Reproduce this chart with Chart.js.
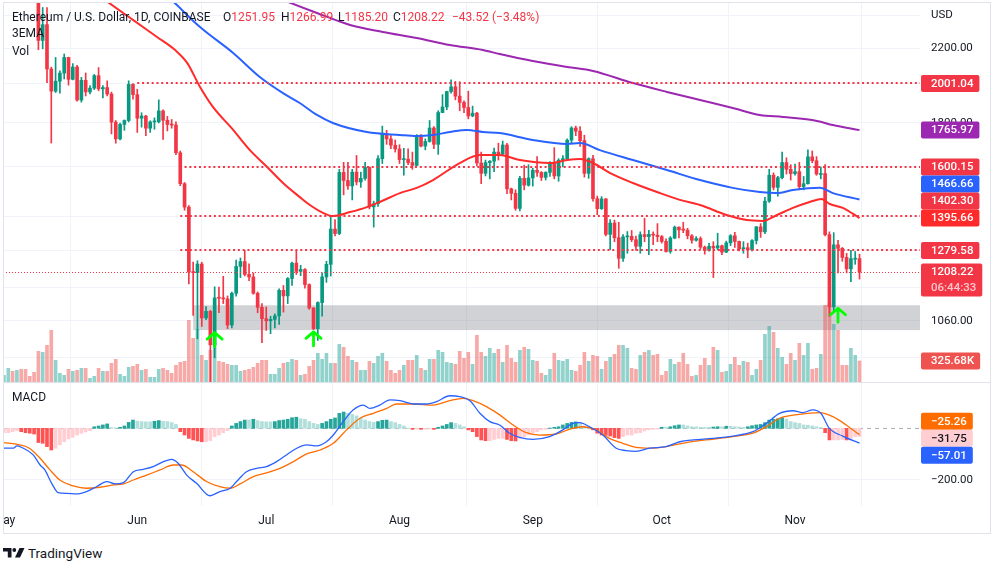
<!DOCTYPE html>
<html>
<head>
<meta charset="utf-8">
<title>ETHUSD 1D - COINBASE</title>
<script src="https://cdn.jsdelivr.net/npm/chart.js@4.4.1/dist/chart.umd.min.js"></script>
<style>
  html, body { margin: 0; padding: 0; background: #fff; }
  body { width: 1001px; height: 570px; position: relative; overflow: hidden;
         font-family: Roboto, "Noto Sans", sans-serif; color: #131722; }
  .pane { position: absolute; left: 3px; width: 988px; }
  #pricePane { top: 2px; height: 380px; }
  #macdPane { top: 383px; height: 151px; }
  .frame { position: absolute; left: 3px; top: 2px; width: 988px; height: 532px;
           box-sizing: border-box; border: 1px solid #e0e3eb; pointer-events: none; }
  .sep { position: absolute; left: 3px; top: 382px; width: 988px; height: 1px; background: #e0e3eb; }
  .lbl { position: absolute; font-size: 12px; line-height: 16px; white-space: nowrap; }
  .red { color: #f23645; }
  #brand { position: absolute; left: 28px; top: 545px; font-size: 13.5px; line-height: 16px; color: #131722; }
</style>
</head>
<body>
<div class="pane" id="pricePane"><canvas id="priceChart" width="988" height="380"></canvas></div>
<div class="pane" id="macdPane"><canvas id="macdChart" width="988" height="151"></canvas></div>
<div class="sep"></div>
<div class="frame"></div>

<div class="lbl" style="left:12px;top:9px">Ethereum / U.S. Dollar, 1D, COINBASE</div>
<div id="ohlc"></div>
<div class="lbl" style="left:12px;top:25px">3EMA</div>
<div class="lbl" style="left:12px;top:43px">Vol</div>
<div class="lbl" style="left:12px;top:389px">MACD</div>

<svg style="position:absolute;left:3px;top:548px" width="22" height="10" viewBox="0 0 22 10">
  <path d="M0 0H8.5V9.5H4.8V3.6H0Z" fill="#131722"/>
  <circle cx="11.3" cy="2" r="1.9" fill="#131722"/>
  <path d="M16.5 0H21.5L17 9.5H12Z" fill="#131722"/>
</svg>
<div id="brand">TradingView</div>

<script>
// ── ETH/USD daily, 1 May – 16 Nov 2022 (index 0 = 1 May) ─────────────────────

const monthStarts = [0, 31, 61, 92, 123, 153, 184];
const monthLabels = ['May', 'Jun', 'Jul', 'Aug', 'Sep', 'Oct', 'Nov'];

const opens = [
  2728,2826,2857,2783,2940,2749,2695,2636,2518,2245,
  2342,2080,1960,2013,2057,2145,2023,2091,1914,2018,
  1956,1976,2043,1972,1979,1945,1804,1725,1793,1812,
  1996,1942,1823,1834,1775,1805,1806,1859,1813,1793,
  1790,1662,1530,1437,1208,1206,1234,1068,1087,994,
  1127,1126,1124,1048,1141,1226,1242,1200,1192,1141,
  1099,1066,1060,1064,1074,1150,1133,1187,1237,1210,
  1216,1168,1097,1038,1113,1192,1233,1355,1339,1577,
  1543,1521,1578,1537,1552,1598,1438,1450,1636,1745,
  1725,1696,1679,1632,1634,1619,1607,1734,1692,1713,
  1776,1700,1851,1879,1958,1983,1934,1902,1876,1834,
  1848,1617,1573,1619,1625,1665,1656,1697,1509,1491,
  1432,1552,1524,1554,1586,1577,1556,1577,1618,1562,
  1629,1636,1719,1776,1761,1717,1573,1636,1470,1431,
  1469,1336,1377,1324,1253,1327,1329,1317,1294,1335,
  1328,1336,1333,1328,1311,1276,1323,1362,1352,1351,
  1331,1315,1321,1291,1280,1294,1288,1296,1274,1306,
  1331,1311,1285,1289,1282,1314,1363,1345,1460,1565,
  1515,1555,1619,1590,1572,1580,1518,1530,1644,1627,
  1568,1572,1335,1100,1299,1287,1256,1218,1250,1251.95
];
const highs = [
  2838,2885,2875,2955,2950,2758,2699,2640,2522,2452,
  2452,2090,2145,2070,2165,2147,2110,2100,2034,2058,
  1990,2050,2088,1990,2015,1955,1812,1800,1815,2015,
  2000,1970,1850,1837,1810,1825,1915,1865,1832,1817,
  1805,1670,1535,1443,1240,1245,1240,1101,1090,1161,
  1160,1194,1133,1145,1247,1254,1280,1235,1205,1145,
  1110,1100,1073,1080,1155,1165,1190,1240,1280,1230,
  1219,1170,1098,1115,1205,1243,1404,1390,1590,1620,
  1620,1590,1650,1578,1620,1600,1460,1650,1785,1765,
  1740,1720,1698,1682,1680,1665,1745,1745,1725,1812,
  1783,1860,1942,1960,2020,2012,2010,1910,1960,1883,
  1852,1665,1630,1628,1683,1705,1715,1705,1512,1505,
  1560,1608,1610,1595,1645,1580,1580,1623,1685,1636,
  1650,1725,1782,1785,1783,1742,1640,1651,1480,1478,
  1470,1390,1388,1380,1335,1346,1350,1330,1345,1395,
  1350,1345,1375,1332,1320,1328,1366,1363,1380,1358,
  1335,1328,1327,1295,1304,1310,1340,1298,1312,1335,
  1343,1312,1310,1305,1317,1365,1375,1475,1590,1575,
  1560,1665,1640,1610,1612,1620,1560,1675,1670,1645,
  1600,1610,1345,1342,1315,1290,1270,1280,1276,1266.99
];
const lows = [
  2715,2775,2755,2779,2710,2650,2595,2500,2190,2195,
  2005,1706,1953,1950,2025,1992,2020,1908,1903,1935,
  1946,1968,1962,1925,1935,1748,1705,1720,1765,1805,
  1918,1755,1780,1740,1755,1770,1800,1722,1762,1775,
  1654,1522,1425,1170,1075,1010,1044,1063,880,960,
  1083,1110,1038,1040,1132,1190,1195,1180,1138,1083,
  1000,1033,1024,1040,1050,1085,1110,1165,1200,1196,
  1157,1093,1035,1006,1073,1175,1195,1330,1335,1485,
  1507,1465,1525,1515,1545,1430,1362,1440,1615,1700,
  1680,1665,1615,1565,1610,1590,1605,1688,1675,1710,
  1680,1655,1850,1865,1950,1915,1860,1850,1820,1830,
  1605,1530,1562,1550,1580,1630,1650,1490,1465,1425,
  1422,1505,1520,1520,1560,1543,1545,1560,1550,1540,
  1600,1633,1705,1740,1690,1557,1552,1460,1408,1428,
  1330,1282,1310,1220,1243,1270,1310,1280,1270,1310,
  1265,1300,1310,1305,1274,1270,1320,1323,1342,1320,
  1305,1312,1285,1267,1277,1190,1282,1265,1272,1296,
  1290,1278,1270,1255,1278,1302,1325,1338,1455,1505,
  1480,1550,1570,1545,1565,1505,1505,1528,1618,1565,
  1550,1330,1073,1087,1205,1243,1205,1177,1233,1185.20
];
const closes = [
  2826,2857,2783,2940,2749,2695,2636,2518,2245,2342,
  2080,1960,2013,2057,2145,2023,2091,1914,2018,1956,
  1976,2043,1972,1979,1945,1804,1725,1793,1812,1996,
  1942,1823,1834,1775,1805,1806,1859,1813,1793,1790,
  1662,1530,1437,1208,1206,1234,1068,1087,994,1127,
  1126,1124,1048,1141,1226,1242,1200,1192,1141,1099,
  1066,1060,1064,1074,1150,1133,1187,1237,1210,1216,
  1168,1097,1038,1113,1192,1233,1355,1339,1577,1543,
  1521,1578,1537,1552,1598,1438,1450,1636,1745,1725,
  1696,1679,1632,1634,1619,1607,1734,1692,1713,1776,
  1700,1851,1879,1958,1983,1934,1902,1876,1834,1848,
  1617,1573,1619,1625,1665,1656,1697,1509,1491,1432,
  1552,1524,1554,1586,1577,1556,1577,1618,1562,1629,
  1636,1719,1776,1761,1717,1573,1636,1470,1431,1469,
  1336,1377,1324,1253,1327,1329,1317,1294,1335,1328,
  1336,1333,1328,1311,1276,1323,1362,1352,1351,1331,
  1315,1321,1291,1280,1294,1288,1296,1274,1306,1331,
  1311,1285,1289,1282,1314,1363,1345,1460,1565,1515,
  1555,1619,1590,1572,1580,1518,1530,1644,1627,1570,
  1572,1335,1100,1299,1287,1256,1218,1252,1251.74,1208.22
];
// volume, thousands of ETH
const volumes = [
  103,212,165,181,196,196,88,150,475,460,
  568,801,336,134,103,196,165,181,212,212,
  57,88,212,165,165,289,351,119,88,227,
  243,274,181,196,72,72,196,212,181,134,
  258,305,320,956,677,816,413,336,491,594,
  320,305,274,258,258,165,181,196,227,289,
  336,336,119,119,212,289,305,351,336,103,
  119,243,336,444,351,444,289,289,584,537,
  398,336,305,181,181,320,289,398,444,320,
  181,134,181,258,336,336,413,212,181,351,
  351,491,460,305,289,274,475,367,460,274,
  723,460,398,522,444,506,305,568,367,305,
  491,537,506,336,320,134,103,196,444,336,
  320,351,181,165,258,460,320,413,398,196,
  320,382,429,568,568,522,212,196,413,460,
  491,413,429,103,165,351,274,305,444,274,
  88,103,258,367,258,537,491,150,165,274,
  382,258,320,305,103,196,336,739,863,770,
  522,382,274,444,336,599,413,599,196,212,
  429,1188,1215,894,801,258,258,522,413,325.68
];

// 3EMA lines: [day, price]
const emaRed = [
  [15,2700],[23.5,2502],[30,2372],[35.6,2266],[39.8,2188],[42.6,2114],[45.6,1982],
  [48.6,1879],[53.3,1767],[57.2,1674],[61.2,1600],[64.9,1533],[68.8,1476],[70.5,1453],
  [74.2,1415],[76.5,1403],[80.5,1418],[84.4,1437],[87.4,1457],[92.1,1492],[96,1513],
  [99.8,1545],[106,1617],[110.7,1652],[115.3,1652],[120,1630],[127,1617],[131,1630],
  [134,1635],[137,1617],[141,1574],[146.3,1533],[152.6,1492],[157.2,1465],[161.9,1445],
  [168.1,1407],[172.8,1388],[176.5,1385],[179.8,1407],[183.5,1434],[187.4,1457],
  [190.2,1469],[192.1,1449],[195.1,1434],[199,1395.66]
];
const emaBlue = [
  [30,2750],[39,2502],[45.6,2327],[53.3,2171],[59.5,2036],[64.9,1950],[68.8,1899],
  [72.8,1839],[76.5,1800],[84.4,1757],[92.1,1743],[96,1738],[99.8,1743],[103.7,1757],
  [107.7,1767],[111.4,1757],[115.3,1752],[123,1720],[131,1702],[134,1706],[138.6,1674],
  [146.3,1630],[154.2,1587],[161.9,1545],[169.5,1513],[175.8,1496],[179.8,1492],
  [183.5,1504],[189.8,1513],[192.8,1492],[199,1466.66]
];
const emaPurple = [
  [55,2620],[64.9,2502],[72.8,2416],[80.5,2340],[88.1,2297],[96,2260],[103.7,2218],
  [111.4,2188],[115.3,2165],[123,2125],[131,2091],[137,2069],[146.3,2003],[154.2,1956],
  [161.9,1914],[169.5,1874],[175.8,1839],[181.2,1829],[189.1,1810],[192.8,1790],[199,1765.97]
];

// drawings
const levels = [2001.04, 1600.15, 1402.30, 1279.58];
const levelStarts = [31, 42, 41, 41];
const zoneLow = 1034, zoneHigh = 1105, zoneStart = 44;
const arrowDays = [49, 72, 194];
const arrowPrices = [1027, 1029, 1096];
const priceTicks = [960, 1060, 1160, 1280, 1400, 1600, 1800, 2000, 2200, 2400];
const countdown = '06:44:33';

// MACD pane: [day, value]
const macdLine = [
  [-0.2,-77],[2.2,-77],[3,-68],[4.5,-77],[6.8,-103],[8.4,-142],[9.5,-161],[11.1,-213],
  [12.6,-249],[14.6,-252],[16.9,-254],[19.2,-245],[21.5,-226],[23.9,-206],[25.8,-215],
  [27.8,-210],[30.1,-168],[32.4,-159],[34.7,-148],[37.1,-129],[39,-120],[40.5,-135],
  [42.5,-181],[44.8,-213],[47.9,-261],[50.2,-245],[52.6,-232],[54.1,-206],[56.4,-168],
  [58.8,-155],[61.1,-148],[63.4,-129],[65.7,-103],[68.1,-77],[70.4,-64],[72.7,-68],
  [75,-52],[76.6,-26],[78.9,26],[81.2,71],[83.6,90],[85.1,77],[87.4,90],[89.8,110],
  [92.1,107],[95.2,94],[98.3,94],[100.6,103],[103.7,126],[106,123],[108.4,107],
  [110.7,58],[113,26],[115.3,13],[117.6,-19],[119.9,-35],[123,-43],[126.9,-32],
  [130,-6],[132.3,19],[133.9,22],[136.2,6],[139.3,-26],[142.4,-77],[144.7,-86],
  [147,-89],[150.2,-77],[154,-71],[157.2,-52],[160.3,-45],[164.9,-39],[169.5,-30],
  [174.2,-13],[177.3,19],[180.4,58],[183.5,68],[185.8,61],[188.1,71],[190,58],
  [192,0],[195.1,-30],[199,-57.01]
];
const signalLine = [
  [-0.2,-55],[3.6,-64],[5.9,-77],[8.4,-116],[10.7,-161],[13,-200],[16.1,-223],
  [19.2,-232],[22.3,-228],[25.4,-219],[27.8,-215],[30.1,-200],[33.2,-181],[36.3,-161],
  [39.4,-142],[41.3,-142],[44,-168],[47.1,-206],[50.2,-226],[52.6,-232],[54.9,-215],
  [58,-187],[61.1,-172],[64.2,-155],[67.3,-129],[70.4,-99],[73.5,-84],[76.6,-58],
  [79.7,-6],[82.8,39],[85.9,58],[89,77],[91.3,94],[95.2,94],[99.8,90],[103.7,107],
  [106.8,116],[109.1,107],[112.2,84],[115.3,52],[118.4,13],[121.5,-17],[124.6,-26],
  [128.4,-22],[131.5,-4],[134.6,6],[137.7,-6],[140.8,-39],[143.9,-58],[147,-74],
  [150.2,-77],[154,-71],[158.7,-55],[163.3,-45],[169.5,-32],[174.2,-19],[177.3,6],
  [180.4,39],[185,54],[189.7,61],[192.8,45],[195.9,13],[199,-25.26]
];
const histogram = [
  -17,-17,-13,-9,-13,-17,-19,-22,-55,-58,
  -71,-84,-77,-64,-52,-41,-35,-26,-19,-14,
  -9,6,9,13,17,3,2,4,9,23,
  32,28,26,25,25,27,30,27,26,22,
  15,-13,-26,-39,-45,-49,-52,-52,-48,-32,
  -26,-17,-9,9,19,26,32,32,35,30,
  26,25,25,26,30,32,35,41,43,37,
  35,26,19,15,19,26,35,40,58,63,
  58,54,48,39,32,26,23,26,31,32,
  26,22,15,9,1,-4,-3,-4,-4,-3,
  -4,4,9,15,22,19,13,6,-6,-13,
  -32,-45,-48,-48,-43,-39,-39,-43,-48,-49,
  -39,-32,-26,-19,-13,-6,-4,1,4,6,
  13,19,23,25,19,9,4,-6,-19,-26,
  -27,-30,-36,-39,-32,-26,-26,-19,-17,-10,
  -6,-4,-3,4,4,6,10,13,13,9,
  6,6,4,4,4,5,6,6,8,8,
  6,5,4,6,10,13,15,22,32,35,
  37,41,36,26,22,19,13,12,9,6,
  3,-17,-45,-45,-45,-43,-45,-39,-32,-31.75
];

// ── styling ──────────────────────────────────────────────────────────────────
Chart.defaults.font.family = 'Roboto, "Noto Sans", sans-serif';
const TEXT = '#131722';
const GRID = '#f0f3fa';
const UP = '#089981', DOWN = '#f23645';
const VOL_UP = 'rgba(38,166,154,0.5)', VOL_DOWN = 'rgba(239,83,80,0.5)';
const EMA_RED = '#ff2a2a', EMA_BLUE = '#2962ff', EMA_PURPLE = '#9c27b0';
const X_MIN = -0.233, X_MAX = 213.07;

const days = closes.map((_, i) => i);
const isUp = i => closes[i] >= opens[i];
const pts = arr => arr.map(p => ({ x: p[0], y: p[1] }));
const minus = v => (v < 0 ? '\u2212' : '') + Math.abs(v).toFixed(2);
const last = arr => arr[arr.length - 1];

// legend line: OHLC of the last bar
(function () {
  const n = closes.length - 1;
  const chg = closes[n] - closes[n - 1];
  const pct = chg / closes[n - 1] * 100;
  const sg = v => (v < 0 ? '\u2212' : '+') + Math.abs(v).toFixed(2);
  const parts = [['O', opens[n], 223], ['H', highs[n], 281], ['L', lows[n], 338], ['C', closes[n], 393]];
  let html = parts.map(p =>
    `<div class="lbl" style="left:${p[2]}px;top:9px">${p[0]}<span class="red">${p[1].toFixed(2)}</span></div>`
  ).join('');
  html += `<div class="lbl red" style="left:452px;top:9px">${sg(chg)} (${sg(pct)}%)</div>`;
  document.getElementById('ohlc').innerHTML = html;
})();

// price-axis labels; pushes overlapping tags apart
function drawTags(chart, tags, mode) {
  const { ctx, chartArea: a } = chart;
  tags.forEach(t => {
    t.pos = chart.scales[t.axis].getPixelForValue(t.value);
    t.above = 8.5;
    t.below = t.sub ? 24.5 : 8.5;
  });
  const s = tags.slice().sort((p, q) => p.pos - q.pos);
  if (mode === 'up') {
    for (let i = s.length - 2; i >= 0; i--) {
      s[i].pos = Math.min(s[i].pos, s[i + 1].pos - s[i + 1].above - s[i].below);
    }
  } else {
    const nat = s.reduce((acc, t) => acc + t.pos, 0);
    for (let i = 1; i < s.length; i++) {
      s[i].pos = Math.max(s[i].pos, s[i - 1].pos + s[i - 1].below + s[i].above);
    }
    const shift = (nat - s.reduce((acc, t) => acc + t.pos, 0)) / s.length;
    s.forEach(t => { t.pos += shift; });
  }
  ctx.save();
  ctx.font = '500 11.5px Roboto';
  ctx.textBaseline = 'middle';
  s.forEach(t => {
    let w = ctx.measureText(t.text).width;
    if (t.sub) w = Math.max(w, ctx.measureText(t.sub).width);
    const x0 = a.right + 1;
    ctx.fillStyle = t.bg;
    ctx.beginPath();
    ctx.roundRect(x0, t.pos - t.above, w + 16, t.above + t.below, 2);
    ctx.fill();
    ctx.fillStyle = t.fg || '#ffffff';
    ctx.fillText(t.text, x0 + 10, t.pos + 0.5);
    if (t.sub) {
      ctx.fillStyle = 'rgba(255,255,255,0.72)';
      ctx.fillText(t.sub, x0 + 10, t.pos + 16.5);
    }
  });
  ctx.restore();
}

const priceDrawings = {
  id: 'priceDrawings',
  beforeDatasetsDraw(chart) {
    const { ctx, chartArea: a, scales: { x, y } } = chart;
    ctx.save();
    ctx.beginPath(); ctx.rect(a.left, a.top, a.width, a.height); ctx.clip();
    const x0 = x.getPixelForValue(zoneStart);
    const yt = y.getPixelForValue(zoneHigh), yb = y.getPixelForValue(zoneLow);
    ctx.fillStyle = 'rgba(120,123,134,0.34)';
    ctx.fillRect(x0, yt, a.right - x0, yb - yt);
    ctx.restore();
  },
  afterDatasetsDraw(chart) {
    const { ctx, chartArea: a, scales: { x, y } } = chart;
    ctx.save();
    ctx.beginPath(); ctx.rect(a.left, a.top, a.width, a.height); ctx.clip();
    ctx.strokeStyle = '#f23645';
    ctx.lineWidth = 2;
    ctx.setLineDash([2, 2.8]);
    levels.forEach((v, k) => {
      const py = Math.round(y.getPixelForValue(v));
      ctx.beginPath();
      ctx.moveTo(x.getPixelForValue(levelStarts[k]), py);
      ctx.lineTo(a.right, py);
      ctx.stroke();
    });
    // last price line
    ctx.lineWidth = 1;
    ctx.setLineDash([1, 2]);
    const lp = Math.round(y.getPixelForValue(last(closes))) + 0.5;
    ctx.beginPath(); ctx.moveTo(a.left, lp); ctx.lineTo(a.right, lp); ctx.stroke();
    // arrows
    ctx.setLineDash([]);
    ctx.strokeStyle = '#00ff00';
    ctx.lineWidth = 2.8;
    ctx.lineCap = 'round';
    ctx.lineJoin = 'round';
    arrowDays.forEach((d, k) => {
      const px = x.getPixelForValue(d), py = y.getPixelForValue(arrowPrices[k]);
      ctx.beginPath();
      ctx.moveTo(px - 7.5, py + 6.5); ctx.lineTo(px, py); ctx.lineTo(px + 7.5, py + 6.5);
      ctx.moveTo(px, py); ctx.lineTo(px, py + 14);
      ctx.stroke();
    });
    ctx.restore();
  },
  afterDraw(chart) {
    const { ctx, chartArea: a } = chart;
    ctx.save();
    ctx.font = '11.5px Roboto';
    ctx.fillStyle = TEXT;
    ctx.textBaseline = 'middle';
    ctx.fillText('USD', a.right + 11, 13);
    ctx.restore();
    const tags = levels.map(v => ({ axis: 'y', value: v, text: v.toFixed(2), bg: '#f23645' }));
    tags.push({ axis: 'y', value: last(emaPurple)[1], text: last(emaPurple)[1].toFixed(2), bg: EMA_PURPLE });
    tags.push({ axis: 'y', value: last(emaBlue)[1], text: last(emaBlue)[1].toFixed(2), bg: EMA_BLUE });
    tags.push({ axis: 'y', value: last(emaRed)[1], text: last(emaRed)[1].toFixed(2), bg: EMA_RED });
    tags.push({ axis: 'y', value: last(closes), text: last(closes).toFixed(2), sub: countdown, bg: '#f23645' });
    tags.push({ axis: 'yv', value: last(volumes), text: last(volumes).toFixed(2) + 'K', bg: '#ef5350' });
    drawTags(chart, tags, 'up');
  }
};

const emaSet = (data, color) => ({
  type: 'line', data: pts(data), yAxisID: 'y', order: 1,
  borderColor: color, borderWidth: 2, pointRadius: 0, cubicInterpolationMode: 'monotone'
});

new Chart(document.getElementById('priceChart'), {
  type: 'bar',
  data: {
    datasets: [
      emaSet(emaPurple, EMA_PURPLE),
      emaSet(emaBlue, EMA_BLUE),
      emaSet(emaRed, EMA_RED),
      { // candle bodies
        data: days.map(i => ({ x: i, y: [opens[i], closes[i]] })),
        backgroundColor: days.map(i => isUp(i) ? UP : DOWN),
        barThickness: 3, minBarLength: 1, grouped: false, yAxisID: 'y', order: 2
      },
      { // wicks
        data: days.map(i => ({ x: i, y: [lows[i], highs[i]] })),
        backgroundColor: days.map(i => isUp(i) ? UP : DOWN),
        barThickness: 1, grouped: false, yAxisID: 'y', order: 3
      },
      { // volume
        data: days.map(i => ({ x: i, y: volumes[i] })),
        backgroundColor: days.map(i => isUp(i) ? VOL_UP : VOL_DOWN),
        barThickness: 3, grouped: false, yAxisID: 'yv', order: 4
      }
    ]
  },
  options: {
    responsive: false, animation: false, events: [],
    layout: { padding: 0 },
    plugins: { legend: { display: false }, tooltip: { enabled: false } },
    scales: {
      x: {
        type: 'linear', min: X_MIN, max: X_MAX, bounds: 'data', offset: false,
        afterBuildTicks: s => { s.ticks = monthStarts.map(v => ({ value: v })); },
        afterFit: s => { s.height = 0; s.paddingLeft = 0; s.paddingRight = 0; },
        ticks: { display: false },
        grid: { color: GRID, drawTicks: false },
        border: { display: false }
      },
      y: {
        type: 'logarithmic', position: 'right', min: 899.8, max: 2488.4, bounds: 'data',
        afterBuildTicks: s => { s.ticks = priceTicks.map(v => ({ value: v })); },
        afterFit: s => { s.width = 71; s.paddingTop = 0; s.paddingBottom = 0; },
        ticks: { padding: 11, color: TEXT, font: { size: 11.5 },
                 callback: v => v === 2400 ? '' : Number(v).toFixed(2) },
        grid: { color: GRID, drawTicks: false },
        border: { display: false }
      },
      yv: { type: 'linear', display: false, min: 0, max: 5890 }
    }
  },
  plugins: [priceDrawings]
});

// ── MACD pane ────────────────────────────────────────────────────────────────
const histColors = histogram.map((v, i) => {
  const prev = i > 0 ? histogram[i - 1] : v;
  if (v >= 0) return v > prev ? '#26a69a' : '#b2dfdb';
  return v < prev ? '#ff5252' : '#ffcdd2';
});

const macdDrawings = {
  id: 'macdDrawings',
  beforeDatasetsDraw(chart) {
    const { ctx, chartArea: a, scales: { y } } = chart;
    const py = Math.round(y.getPixelForValue(0)) + 0.5;
    ctx.save();
    ctx.strokeStyle = 'rgba(120,123,134,0.6)';
    ctx.lineWidth = 1;
    ctx.setLineDash([4, 4]);
    ctx.beginPath(); ctx.moveTo(a.left, py); ctx.lineTo(a.right, py); ctx.stroke();
    ctx.restore();
  },
  afterDraw(chart) {
    drawTags(chart, [
      { axis: 'y', value: last(signalLine)[1], text: minus(last(signalLine)[1]), bg: '#ff6d00' },
      { axis: 'y', value: last(histogram), text: minus(last(histogram)), bg: '#ffcdd2', fg: TEXT },
      { axis: 'y', value: last(macdLine)[1], text: minus(last(macdLine)[1]), bg: '#2962ff' }
    ], 'center');
  }
};

new Chart(document.getElementById('macdChart'), {
  type: 'bar',
  data: {
    datasets: [
      { type: 'line', data: pts(signalLine), borderColor: '#ff6d00', borderWidth: 1.3,
        pointRadius: 0, cubicInterpolationMode: 'monotone', order: 1 },
      { type: 'line', data: pts(macdLine), borderColor: '#2962ff', borderWidth: 1.3,
        pointRadius: 0, cubicInterpolationMode: 'monotone', order: 0 },
      { data: days.map(i => ({ x: i, y: histogram[i] })), backgroundColor: histColors,
        barThickness: 3, grouped: false, order: 2 }
    ]
  },
  options: {
    responsive: false, animation: false, events: [],
    layout: { padding: 0 },
    plugins: { legend: { display: false }, tooltip: { enabled: false } },
    scales: {
      x: {
        type: 'linear', min: X_MIN, max: X_MAX, bounds: 'data', offset: false,
        afterBuildTicks: s => { s.ticks = monthStarts.map(v => ({ value: v })); },
        afterFit: s => { s.height = 28; s.paddingLeft = 0; s.paddingRight = 0; },
        ticks: { padding: 8, color: TEXT, font: { size: 12 }, maxRotation: 0, autoSkip: false,
                 callback: v => monthLabels[monthStarts.indexOf(v)] },
        grid: { color: GRID, drawTicks: false },
        border: { display: false }
      },
      y: {
        type: 'linear', position: 'right', min: -300.6, max: 175.3, bounds: 'data',
        afterBuildTicks: s => { s.ticks = [{ value: -200 }]; },
        afterFit: s => { s.width = 71; s.paddingTop = 0; s.paddingBottom = 0; },
        ticks: { padding: 11, color: TEXT, font: { size: 11.5 }, callback: v => minus(v) },
        grid: { color: GRID, drawTicks: false },
        border: { display: false }
      }
    }
  },
  plugins: [macdDrawings]
});
</script>
</body>
</html>
